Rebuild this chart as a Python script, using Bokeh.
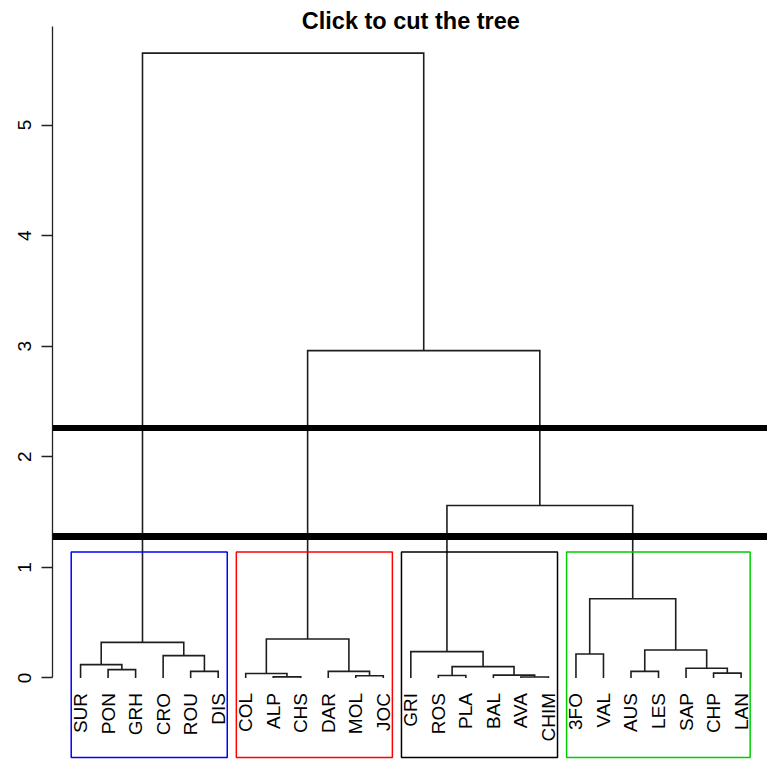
import math
from bokeh.plotting import figure
from bokeh.models import FixedTicker, Span, Label
from bokeh.core.properties import value
from bokeh.embed import file_html
from bokeh.resources import INLINE

# ---------------- data ----------------
labels = ["SUR", "PON", "GRH", "CRO", "ROU", "DIS",
          "COL", "ALP", "CHS", "DAR", "MOL", "JOC",
          "GRI", "ROS", "PLA", "BAL", "AVA", "CHIM",
          "3FO", "VAL", "AUS", "LES", "SAP", "CHP", "LAN"]

# R-style merge table: negative = leaf (1-based position), positive = earlier merge row (1-based)
merge_left = [-8, -17, -14, -16, -11, -7, -24, -5, -10, -21, -2, -23,
              3, -1, -4, -19, -13, 10, 14, 6, 16, 17, 20, 19]
merge_right = [-9, -18, -15, 2, -12, 1, -25, -6, 5, -22, -3, 7,
               4, 11, 8, -20, 13, 12, 15, 9, 18, 21, 22, 23]
merge_height = [0.010, 0.009, 0.022, 0.026, 0.020, 0.040, 0.044, 0.060, 0.060, 0.060, 0.076, 0.088,
                0.103, 0.121, 0.202, 0.217, 0.238, 0.253, 0.322, 0.352, 0.717, 1.56, 2.96, 5.65]

k_clusters = 4
cluster_colors = ["#0000FF", "#FF0000", "#000000", "#00CD00"]
cut_heights = [2.26, 1.28]
cut_widths = [6, 7]
y_ticks = [0, 1, 2, 3, 4, 5]
title_text = "Click to cut the tree"

FONT = "Liberation Sans"
n = len(labels)
X_MIN, X_MAX = -0.02, 25.96
Y_MIN, Y_MAX = -0.737, 6.126
Y_AXIS_TOP = 5.89
RECT_BOTTOM = -0.72

# ---------------- tree geometry ----------------
node_x = {}
node_y = {}
node_leaves = {}
for i, (l, r, h) in enumerate(zip(merge_left, merge_right, merge_height), start=1):
    pts = []
    leaves = []
    for c in (l, r):
        if c < 0:
            pts.append((float(-c), 0.0))
            leaves.append(-c)
        else:
            pts.append((node_x[c], node_y[c]))
            leaves.extend(node_leaves[c])
    node_x[i] = (pts[0][0] + pts[1][0]) / 2.0
    node_y[i] = h
    node_leaves[i] = leaves


def cpos(c):
    return (float(-c), 0.0) if c < 0 else (node_x[c], node_y[c])


xs, ys = [], []
for l, r, h in zip(merge_left, merge_right, merge_height):
    (xl, yl), (xr, yr) = cpos(l), cpos(r)
    xs.append([xl, xl, xr, xr])
    ys.append([yl, h, h, yr])

# clusters for k groups (like cutree / rect.hclust)
nm = len(merge_height)
top_merges = list(range(nm - k_clusters + 2, nm + 1))
groups = []
for m in top_merges:
    for c in (merge_left[m - 1], merge_right[m - 1]):
        if c < 0:
            groups.append([-c])
        elif c not in top_merges:
            groups.append(node_leaves[c])
groups.sort(key=lambda g: min(g))
sorted_h = sorted(merge_height, reverse=True)
rect_top = (sorted_h[k_clusters - 2] + sorted_h[k_clusters - 1]) / 2.0
r_left = [min(g) - 0.34 for g in groups]
r_right = [max(g) + 0.33 for g in groups]

# ---------------- figure ----------------
p = figure(width=767, height=759, output_backend="svg", toolbar_location=None,
           x_range=(X_MIN, X_MAX), y_range=(Y_MIN, Y_MAX),
           x_axis_location=None, min_border_left=52, min_border_right=0,
           min_border_top=0, min_border_bottom=0)
p.grid.visible = False
p.outline_line_color = None
p.background_fill_color = "white"
p.border_fill_color = "white"

ax = p.yaxis[0]
ax.ticker = FixedTicker(ticks=y_ticks)
ax.bounds = (0, Y_AXIS_TOP)
ax.major_label_orientation = "vertical"
ax.major_label_text_font = FONT
ax.major_label_text_font_size = "19px"
ax.major_label_text_color = "#000000"
ax.major_label_standoff = 10
ax.major_tick_in = 0
ax.major_tick_out = 11
ax.minor_tick_line_color = None
ax.axis_line_color = "#222222"
ax.major_tick_line_color = "#222222"
ax.axis_line_width = 1.3
ax.major_tick_line_width = 1.3

p.multi_line(xs=xs, ys=ys, line_color="#1e1e1e", line_width=1.6, line_join="miter")

p.quad(left=r_left, right=r_right, bottom=[RECT_BOTTOM] * len(groups),
       top=[rect_top] * len(groups), fill_color=None,
       line_color=cluster_colors[:len(groups)], line_width=1.5)

p.text(x=list(range(1, n + 1)), y=[0] * n, text=labels, angle=math.pi / 2,
       text_align="right", text_baseline="middle", y_offset=15,
       text_font=value(FONT), text_font_size="19px", text_color="#000000")

for h, w in zip(cut_heights, cut_widths):
    p.add_layout(Span(location=h, dimension="width", line_color="#000000", line_width=w))

p.add_layout(Label(x=(n + 1) / 2.0, y=Y_MAX - 0.181, text=title_text,
                   text_font=FONT, text_font_size="23.5px", text_font_style="bold",
                   text_align="center", text_baseline="middle", text_color="#000000"))

open("out.html", "w").write(file_html(p, INLINE))
